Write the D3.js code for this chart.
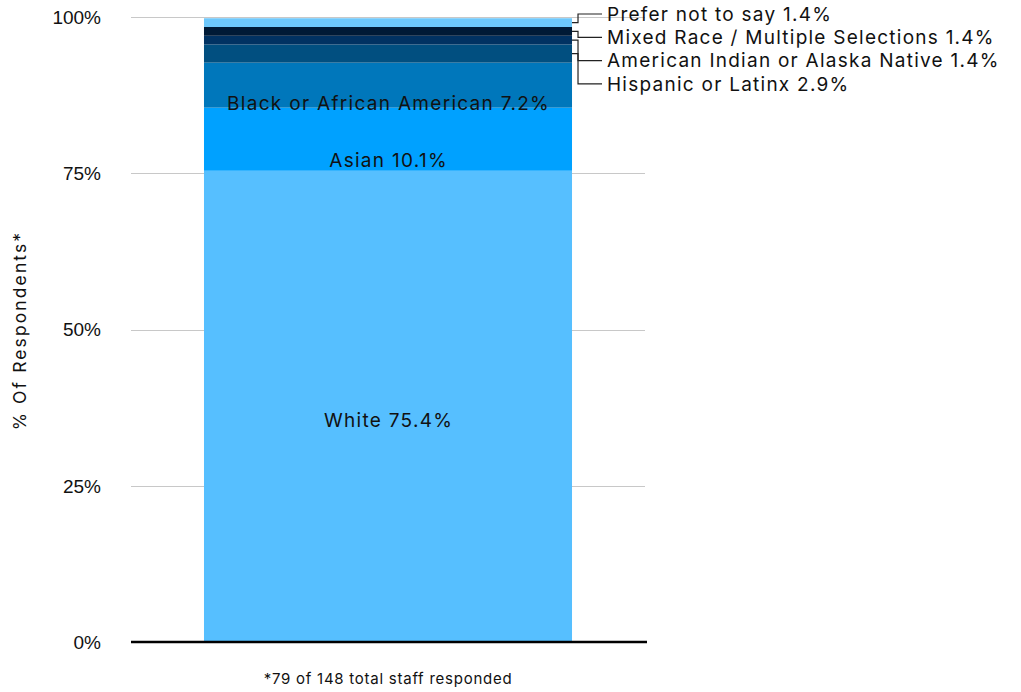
<!DOCTYPE html>
<html>
<head>
<meta charset="utf-8">
<script src="https://cdn.jsdelivr.net/npm/d3@7"></script>
<style>
  html, body { margin: 0; padding: 0; background: #fff; }
  svg { display: block; }
</style>
</head>
<body>
<svg id="chart" width="1021" height="692"></svg>
<script>
// Staff race / ethnicity breakdown, stacked bottom to top
const categories = [
  "White",
  "Asian",
  "Black or African American",
  "Hispanic or Latinx",
  "American Indian or Alaska Native",
  "Mixed Race / Multiple Selections",
  "Prefer not to say"
];
const values = [75.4, 10.1, 7.2, 2.9, 1.4, 1.4, 1.4];
const colors = ["#56bfff", "#00a1ff", "#0077bb", "#014f80", "#013262", "#001a36", "#6ec8fc"];
const tickValues = [0, 25, 50, 75, 100];
const tickLabels = ["0%", "25%", "50%", "75%", "100%"];
const footnote = "*79 of 148 total staff responded";
const yTitle = "% Of Respondents*";

// How the segment labels are placed: inside the bar for the large ones,
// in a callout list to the right for the thin ones
const insideAnchor = { "White": 0.47, "Asian": 0.16, "Black or African American": 0.1 };

const labelFont = "Inter, 'Open Sans', sans-serif";
const axisFont = "'Liberation Sans', Arial, sans-serif";

const svg = d3.select("#chart");
const margin = { left: 131, right: 376, top: 17, bottom: 50 };
const W = 1021, H = 692;

const x = d3.scaleBand()
  .domain(["all"])
  .range([margin.left, W - margin.right])
  .padding(0.1655);

const y = d3.scaleLinear()
  .domain([0, 100])
  .range([H - margin.bottom, margin.top]);

// stacked layout
let acc = 0;
const segs = categories.map((c, i) => {
  const s = { cat: c, value: values[i], y0: acc, y1: acc + values[i], color: colors[i] };
  acc += values[i];
  return s;
});

// gridlines
svg.append("g")
  .selectAll("line")
  .data(tickValues.filter(d => d > 0))
  .join("line")
  .attr("x1", margin.left)
  .attr("x2", W - margin.right)
  .attr("y1", d => Math.round(y(d)) + 0.5)
  .attr("y2", d => Math.round(y(d)) + 0.5)
  .attr("stroke", "#c8c8c8")
  .attr("stroke-width", 1);

// y tick labels
svg.append("g")
  .selectAll("text")
  .data(tickValues)
  .join("text")
  .attr("x", 101)
  .attr("y", d => y(d))
  .attr("dy", "0.36em")
  .attr("text-anchor", "end")
  .attr("font-family", axisFont)
  .attr("font-size", 19)
  .attr("fill", "#111")
  .text((d, i) => tickLabels[i]);

// bar segments
svg.append("g")
  .selectAll("rect")
  .data(segs)
  .join("rect")
  .attr("x", x("all"))
  .attr("width", x.bandwidth())
  .attr("y", d => y(d.y1))
  .attr("height", d => y(d.y0) - y(d.y1))
  .attr("fill", d => d.color);

// baseline
svg.append("line")
  .attr("x1", margin.left)
  .attr("x2", W - margin.right + 2)
  .attr("y1", y(0))
  .attr("y2", y(0))
  .attr("stroke", "#000")
  .attr("stroke-width", 2.5);

// labels inside the bar
svg.append("g")
  .selectAll("text")
  .data(segs.filter(d => d.cat in insideAnchor))
  .join("text")
  .attr("x", x("all") + x.bandwidth() / 2 + 0.6)
  .attr("y", d => y(d.y0 + d.value * insideAnchor[d.cat]))
  .attr("dy", "0.36em")
  .attr("text-anchor", "middle")
  .attr("font-family", labelFont)
  .attr("font-size", 19)
  .attr("letter-spacing", 1.3)
  .attr("fill", "#111")
  .text(d => `${d.cat} ${d.value}%`);

// callout labels for the thin segments, listed top-down
const outside = segs.filter(d => !(d.cat in insideAnchor)).reverse();
const barRight = x("all") + x.bandwidth();
const elbowX = barRight + 6;
const textX = barRight + 35;
const slotTop = y(100) - 3;
const slotStep = 23.3;

const callouts = svg.append("g");
outside.forEach((d, i) => {
  const ly = slotTop + i * slotStep;
  const my = y((d.y0 + d.y1) / 2);
  callouts.append("path")
    .attr("d", `M${barRight},${my}H${elbowX}V${ly}H${textX - 5}`)
    .attr("fill", "none")
    .attr("stroke", "#222")
    .attr("stroke-width", 1.2);
  callouts.append("text")
    .attr("x", textX)
    .attr("y", ly)
    .attr("dy", "0.36em")
    .attr("font-family", labelFont)
    .attr("font-size", 19)
    .attr("letter-spacing", 1.25)
    .attr("fill", "#111")
    .text(`${d.cat} ${d.value}%`);
});

// y-axis title
svg.append("text")
  .attr("transform", `translate(26,${(y(0) + y(100)) / 2 + 1}) rotate(-90)`)
  .attr("text-anchor", "middle")
  .attr("font-family", labelFont)
  .attr("font-size", 17.5)
  .attr("letter-spacing", 2.1)
  .attr("fill", "#111")
  .text(yTitle);

// footnote
svg.append("text")
  .attr("x", (margin.left + W - margin.right) / 2)
  .attr("y", 684)
  .attr("text-anchor", "middle")
  .attr("font-family", labelFont)
  .attr("font-size", 15)
  .attr("letter-spacing", 0.75)
  .attr("fill", "#111")
  .text(footnote);
</script>
</body>
</html>
